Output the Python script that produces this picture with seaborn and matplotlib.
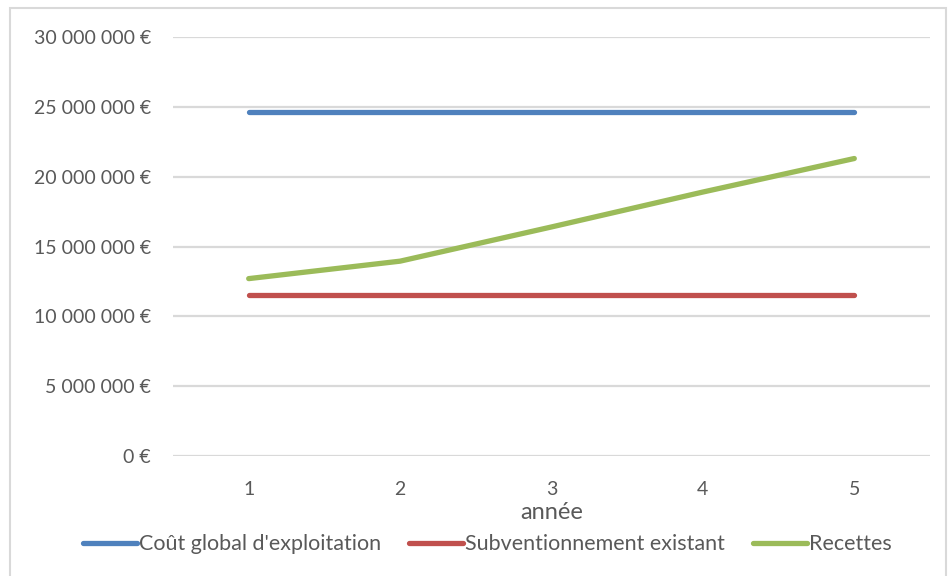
import numpy as np
import pandas as pd
import seaborn as sns
import matplotlib.pyplot as plt
from matplotlib.patches import Rectangle
from matplotlib.ticker import FuncFormatter

# values (euros)
years = [1, 2, 3, 4, 5]
cout_global = [24600000, 24600000, 24600000, 24600000, 24600000]
subventionnement = [11500000, 11500000, 11500000, 11500000, 11500000]
recettes = [12700000, 13950000, 16400000, 18900000, 21300000]

series_names = ["Coût global d'exploitation", "Subventionnement existant", "Recettes"]
series_colors = ["#4F81BD", "#C0504D", "#9BBB59"]

df = pd.DataFrame({
    "année": years * 3,
    "valeur": cout_global + subventionnement + recettes,
    "série": [series_names[0]] * 5 + [series_names[1]] * 5 + [series_names[2]] * 5,
})

sns.set_style("white")
plt.rcParams["font.family"] = ["Lato", "DejaVu Sans"]

fig = plt.figure(figsize=(9.49, 5.76), dpi=100)
ax = fig.add_axes([173 / 949, 1 - 456 / 576, (930 - 173) / 949, (456 - 37) / 576])

# light gray chart border like the Excel chart area
fig.patches.append(Rectangle((10 / 949, -0.01), (946 - 10) / 949, 1 - 8 / 576 + 0.01,
                             transform=fig.transFigure, fill=False,
                             edgecolor="#D9D9D9", linewidth=1.5))

sns.lineplot(data=df, x="année", y="valeur", hue="série", palette=series_colors,
             linewidth=3.8, ax=ax, legend=True, solid_capstyle="round")

ax.set_xlim(0.5, 5.5)
ax.set_ylim(0, 30000000)
ax.set_yticks(np.arange(0, 30000001, 5000000))
ax.set_xticks(years)
ax.yaxis.set_major_formatter(FuncFormatter(lambda v, p: f"{v:,.0f}".replace(",", " ") + " €"))
ax.grid(axis="y", color="#D9D9D9", linewidth=1.6)
ax.grid(axis="x", visible=False)
ax.set_axisbelow(True)
for s in ax.spines.values():
    s.set_visible(False)
ax.tick_params(axis="both", length=0, labelsize=14, colors="#595959")
ax.tick_params(axis="y", pad=16)
ax.tick_params(axis="x", pad=18)
ax.set_ylabel("")
ax.set_xlabel("année", fontsize=17, color="#595959", labelpad=3)

ax.legend(loc="upper center", bbox_to_anchor=(0.415, -0.14), ncol=3, frameon=False,
          fontsize=15.5, labelcolor="#595959", handlelength=2.5, handletextpad=0.1,
          columnspacing=1.3)

fig.savefig("out.png", dpi=100)
